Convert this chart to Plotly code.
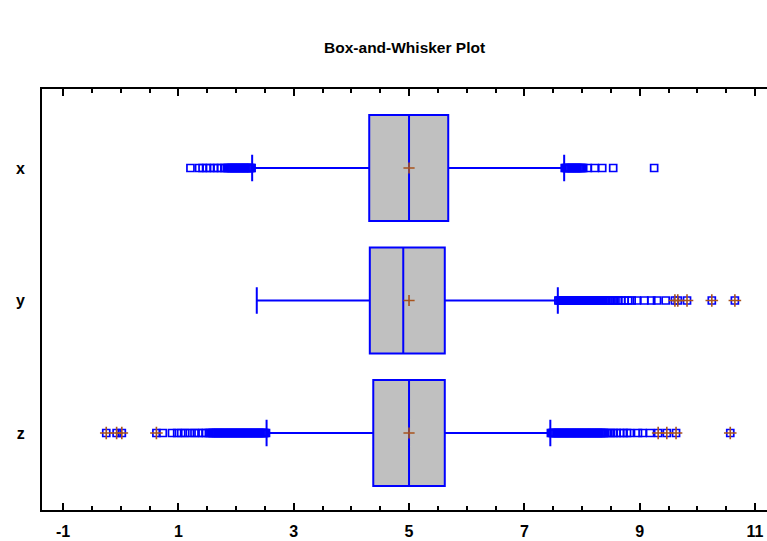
import plotly.graph_objects as go

# ---- data ----
categories = ["x", "y", "z"]
q1 = [4.31, 4.32, 4.38]
median = [5.00, 4.90, 5.00]
q3 = [5.68, 5.62, 5.62]
lower_whisker = [2.28, 2.36, 2.53]
upper_whisker = [7.69, 7.58, 7.45]
means = [5.00, 5.00, 5.00]

# outside points (beyond 1.5 IQR)
outliers_x = [1.21, 1.36, 1.42, 1.49, 1.55, 1.62, 1.68, 1.74, 1.80, 1.84, 1.86, 1.88,
              1.90, 1.92, 1.94, 1.96, 1.98, 2.00, 2.02, 2.04, 2.06, 2.08, 2.10, 2.12,
              2.14, 2.16, 2.18, 2.20, 2.22, 2.24, 2.26, 2.27,
              7.70, 7.72, 7.74, 7.76, 7.78, 7.80, 7.82, 7.84, 7.86, 7.88, 7.90, 7.92,
              7.94, 7.96, 7.98, 8.00, 8.02,
              8.10, 8.22, 8.35, 8.54, 9.25]
outliers_y = [7.59, 7.61, 7.63, 7.65, 7.67, 7.69, 7.71, 7.73, 7.75, 7.77, 7.79, 7.81,
              7.83, 7.85, 7.87, 7.89, 7.91, 7.93, 7.95, 7.97, 7.99, 8.01, 8.03, 8.05,
              8.07, 8.09, 8.11, 8.13, 8.15, 8.17, 8.19, 8.21, 8.23, 8.25, 8.27, 8.29,
              8.31, 8.33, 8.35, 8.37, 8.39, 8.41, 8.44,
              8.48, 8.53, 8.58, 8.63, 8.68, 8.74, 8.80, 8.86,
              8.95, 9.08, 9.20, 9.30, 9.45]
outliers_z = [0.73, 0.89, 0.98, 1.05, 1.12, 1.20, 1.28, 1.35, 1.42, 1.48, 1.53,
              1.56, 1.58, 1.60, 1.62, 1.64, 1.66, 1.68, 1.70, 1.72, 1.74, 1.76, 1.78,
              1.80, 1.82, 1.84, 1.86, 1.88, 1.90, 1.92, 1.94, 1.96, 1.98, 2.00, 2.02,
              2.04, 2.06, 2.08, 2.10, 2.12, 2.14, 2.16, 2.18, 2.20, 2.22, 2.24, 2.26,
              2.28, 2.30, 2.32, 2.34, 2.36, 2.38, 2.40, 2.42, 2.44, 2.46, 2.48, 2.50,
              2.52,
              7.46, 7.48, 7.50, 7.52, 7.54, 7.56, 7.58, 7.60, 7.62, 7.64, 7.66, 7.68,
              7.70, 7.72, 7.74, 7.76, 7.78, 7.80, 7.82, 7.84, 7.86, 7.88, 7.90, 7.92,
              7.94, 7.96, 7.98, 8.00, 8.02, 8.04, 8.06, 8.08, 8.10, 8.12, 8.14, 8.16,
              8.18, 8.20, 8.22, 8.24, 8.26, 8.28, 8.30, 8.32, 8.34, 8.36, 8.38, 8.40,
              8.45, 8.50, 8.55, 8.60, 8.66, 8.72, 8.78, 8.83,
              8.97, 9.05, 9.18]
# far outside points (beyond 3 IQR)
far_x = []
far_y = [9.61, 9.66, 9.82, 10.25, 10.65]
far_z = [-0.25, -0.07, 0.02, 0.62, 9.32, 9.47, 9.63, 10.57]

x_ticks = [-1, 1, 3, 5, 7, 9, 11]

BLUE = "#0000FF"
BROWN = "#A8531C"
GREY = "#C0C0C0"

# categories from top to bottom -> numeric positions
n = len(categories)
positions = [n - 1 - i for i in range(n)]

fig = go.Figure()

for i, cat in enumerate(categories):
    fig.add_trace(go.Box(
        orientation="h",
        y=[positions[i]],
        q1=[q1[i]], median=[median[i]], q3=[q3[i]],
        lowerfence=[lower_whisker[i]], upperfence=[upper_whisker[i]],
        width=0.8, whiskerwidth=0.25,
        fillcolor=GREY, line=dict(color=BLUE, width=2),
        boxpoints=False, hoverinfo="skip", showlegend=False,
    ))

out_lists = [outliers_x, outliers_y, outliers_z]
far_lists = [far_x, far_y, far_z]

for i in range(n):
    vals = out_lists[i] + far_lists[i]
    fig.add_trace(go.Scatter(
        x=vals, y=[positions[i]] * len(vals), mode="markers",
        marker=dict(symbol="square-open", size=7, color=BLUE, line=dict(width=1.7)),
        hoverinfo="skip", showlegend=False,
    ))
    if far_lists[i]:
        fig.add_trace(go.Scatter(
            x=far_lists[i], y=[positions[i]] * len(far_lists[i]), mode="markers",
            marker=dict(symbol="cross-thin", size=9, color=BROWN,
                        line=dict(width=1.6, color=BROWN)),
            hoverinfo="skip", showlegend=False,
        ))

# means
fig.add_trace(go.Scatter(
    x=means, y=positions, mode="markers",
    marker=dict(symbol="cross-thin", size=8, color=BROWN, line=dict(width=1.6, color=BROWN)),
    hoverinfo="skip", showlegend=False,
))

fig.update_layout(
    width=767, height=541,
    margin=dict(l=42, r=0, t=89, b=31, autoexpand=False),
    paper_bgcolor="white", plot_bgcolor="white",
    title=dict(text="Box-and-Whisker Plot", x=0.5275, xanchor="center",
               yref="container", y=1 - 48 / 541, yanchor="middle",
               font=dict(family="Arial", size=15.5, color="black", weight="bold")),
    font=dict(family="Arial", color="black"),
)

fig.update_xaxes(
    range=[-1.364, 11.207], tickvals=x_ticks, ticktext=[str(t) for t in x_ticks],
    showgrid=False, zeroline=False, automargin=False,
    showline=True, linecolor="black", linewidth=2, mirror="ticks",
    ticks="inside", ticklen=7, tickwidth=2, tickcolor="black",
    minor=dict(dtick=0.5, tick0=-1, ticks="inside", ticklen=4, tickwidth=1.5,
               tickcolor="black", showgrid=False),
    tickfont=dict(family="Arial", size=16, color="black", weight="bold"),
    ticklabelstandoff=6,
)
fig.update_yaxes(
    range=[-0.581, 2.596], tickvals=positions, ticktext=categories,
    showgrid=False, zeroline=False, automargin=False,
    showline=True, linecolor="black", linewidth=2, mirror=False,
    ticks="", tickfont=dict(family="Arial", size=16, color="black", weight="bold"),
    ticklabelstandoff=12,
)

fig.write_html(
    "out.html",
    config={"displayModeBar": False},
    post_script="document.body.style.margin='0';document.body.style.overflow='hidden';",
)
